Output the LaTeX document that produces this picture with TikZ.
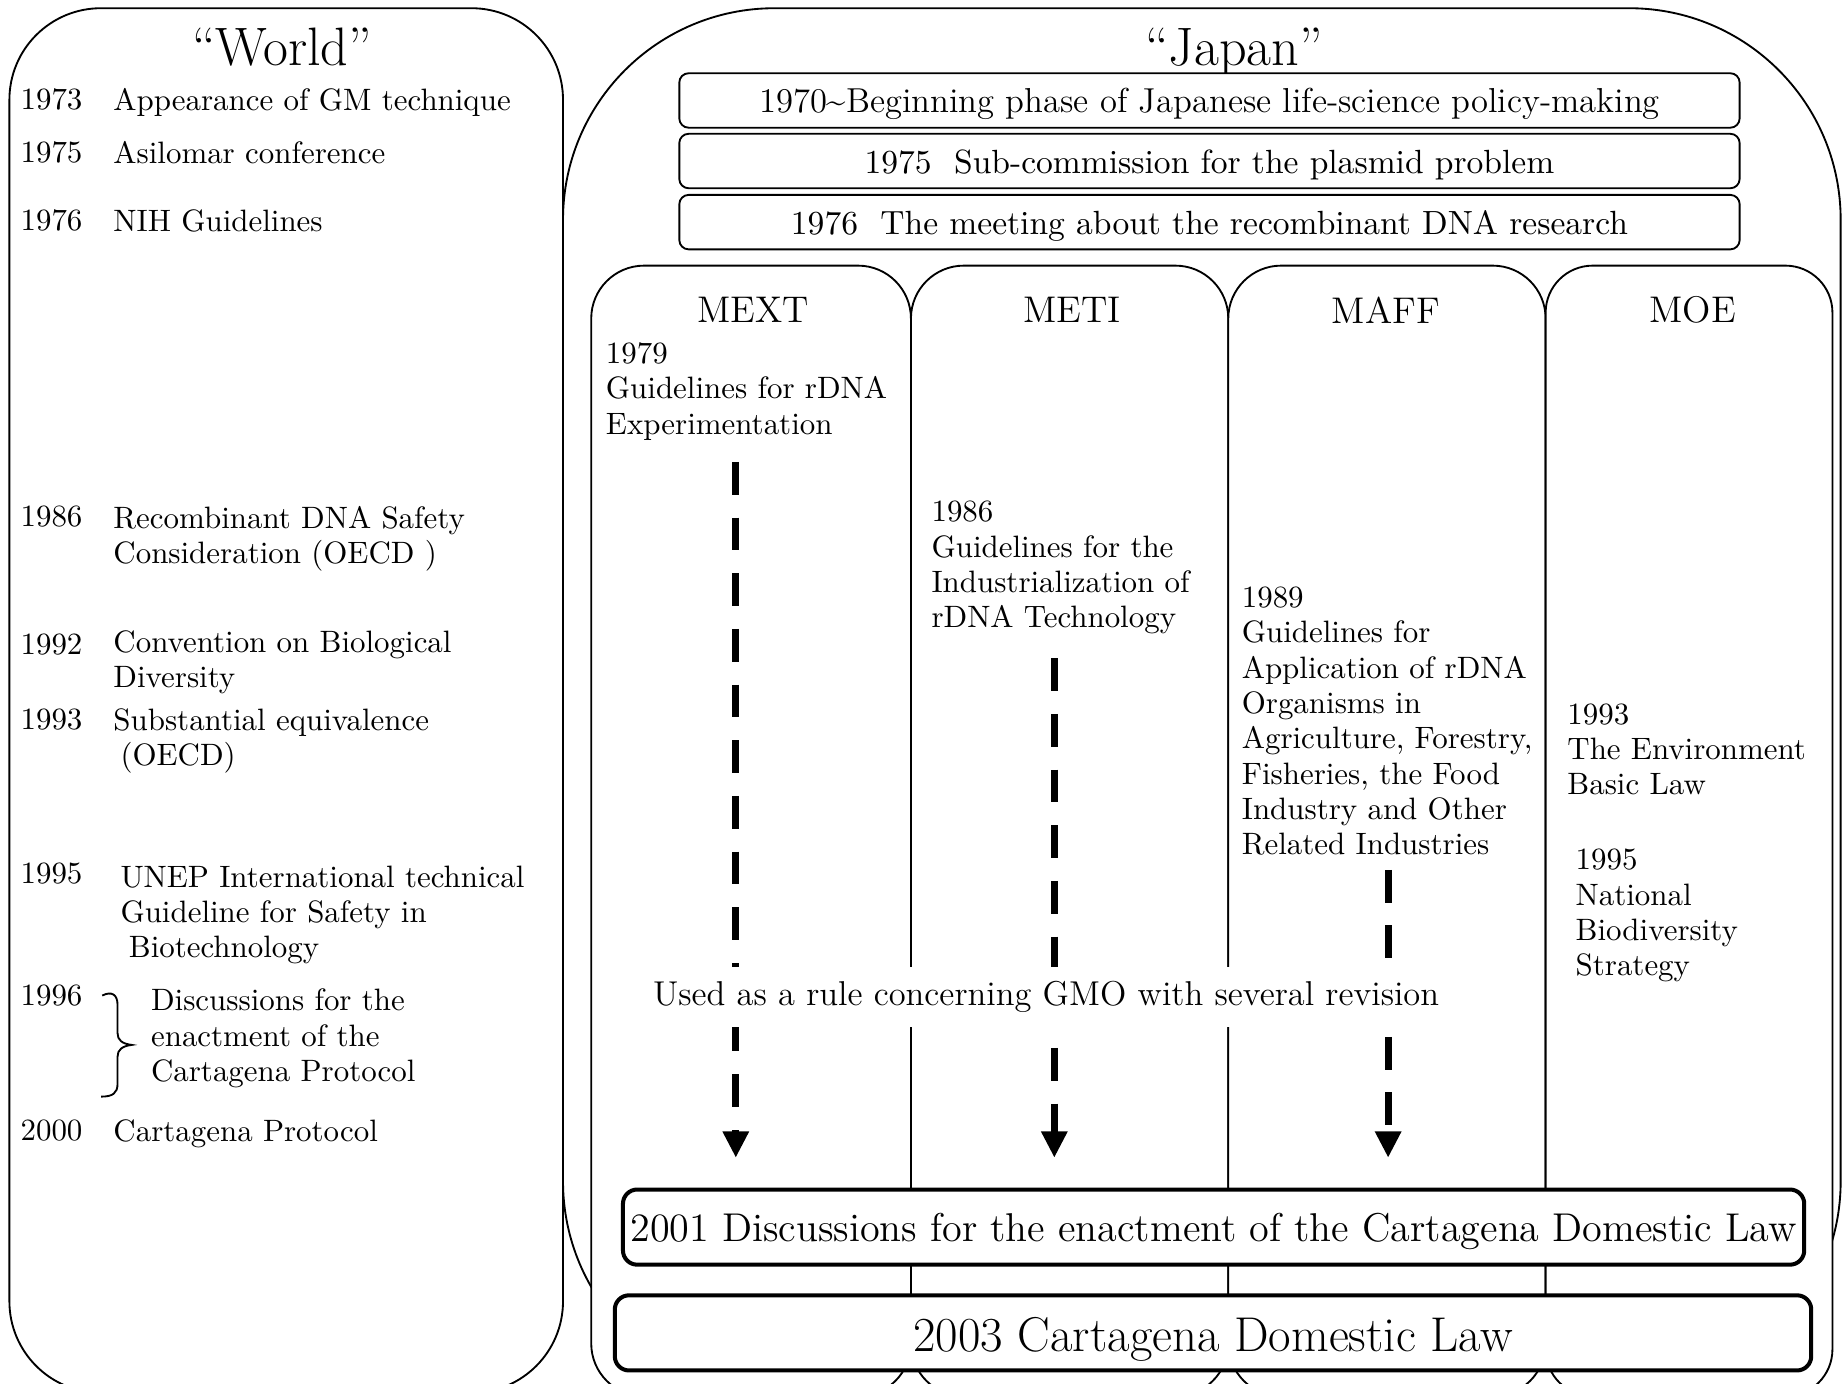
\documentclass[tikz,border=0pt]{standalone}
\usetikzlibrary{arrows.meta}
\begin{document}
\begin{tikzpicture}[x=0.38pt,y={(0pt,-0.38pt)},
  every node/.style={inner sep=0pt, font=\fontsize{10}{11.4}\selectfont},
  frame/.style={draw=black, line width=0.6pt, fill=white},
  item/.style={anchor=north west, align=left},
  titletext/.style={anchor=base, font=\fontsize{17.5}{20}\selectfont},
  ministry/.style={font=\fontsize{12}{14}\selectfont},
  topbox/.style={draw=black, line width=0.6pt, fill=white, rounded corners=3pt,
    minimum width=342.8pt, minimum height=17.6pt, text height=9.9pt, text depth=2.1pt,
    font=\fontsize{10.85}{13}\selectfont},
  lawbox/.style={draw=black, line width=1.3pt, fill=white, rounded corners=4.6pt,
    minimum height=24.3pt},
  arrowline/.style={line width=2.2pt, dash pattern=on 10.6pt off 7.4pt,
    -{Triangle[width=8pt,length=8.5pt]}}
]
\useasboundingbox (0,0) rectangle (1568,1177);

% ---------- containers ----------
\draw[frame, rounded corners=29.6pt] (8,7) rectangle (479,1185);
\draw[frame, rounded corners=68.4pt] (479,7) rectangle (1566,1185);
\draw[frame, rounded corners=17.1pt] (503,226) rectangle (775,1188);
\draw[frame, rounded corners=17.1pt] (775,226) rectangle (1045,1188);
\draw[frame, rounded corners=17.1pt] (1045,226) rectangle (1315,1188);
\draw[frame, rounded corners=15.2pt] (1315,226) rectangle (1559,1188);

% ---------- titles ----------
\node[titletext] (worldT) at (240,56) {“World”};
\node[titletext] (japanT) at (1050,56) {“Japan”};

% ---------- World column ----------
\node[item] (y1973) at (17,75) {1973};
\node[item] (t1973) at (96,75) {Appearance of GM technique};
\node[item] (y1975) at (17,120) {1975};
\node[item] (t1975) at (96,120) {Asilomar conference};
\node[item] (y1976) at (17,178) {1976};
\node[item] (t1976) at (96,178) {NIH Guidelines};
\node[item] (y1986) at (17,430) {1986};
\node[item] (t1986) at (96,430) {Recombinant DNA Safety\\Consideration (OECD )};
\node[item] (y1992) at (17,539) {1992};
\node[item] (t1992) at (96,536) {Convention on Biological\\Diversity};
\node[item] (y1993) at (17,603) {1993};
\node[item] (t1993) at (96,602) {Substantial equivalence\\\hspace*{2.3pt}(OECD)};
\node[item] (y1995) at (17,734) {1995};
\node[item] (t1995) at (102,736) {UNEP International technical\\Guideline for Safety in\\\hspace*{2.7pt}Biotechnology};
\node[item] (y1996) at (17,837) {1996};
\node[item] (t1996) at (128,841) {Discussions for the\\enactment of the\\Cartagena Protocol};
\node[item] (y2000) at (17,952) {2000};
\node[item] (t2000) at (96,952) {Cartagena Protocol};
\draw[line width=0.6pt] (87,847) .. controls (95,843) and (100,846) .. (100,855)
  -- (100,879) .. controls (100,885) and (104,888) .. (112,889)
  .. controls (104,890) and (100,893) .. (100,899)
  -- (100,922) .. controls (100,930) and (96,933) .. (86,933);

% ---------- Japan top boxes ----------
\node[topbox, font=\fontsize{11.2}{13}\selectfont] (p1970) at (1029,85.5) {1970\textasciitilde Beginning phase of Japanese life-science policy-making};
\node[topbox] (p1975) at (1029,137) {1975\ \ Sub-commission for the plasmid problem};
\node[topbox] (p1976) at (1029,189) {1976\ \ The meeting about the recombinant DNA research};

% ---------- ministries ----------
\node[ministry] (mext) at (641,264) {MEXT};
\node[ministry] (meti) at (912,264) {METI};
\node[ministry] (maff) at (1179,264) {MAFF};
\node[ministry] (moe) at (1440,264) {MOE};

\node[item] (mext79) at (515,291) {1979\\Guidelines for rDNA\\Experimentation};
\node[item] (meti86) at (792,426) {1986\\Guidelines for the\\Industrialization of\\rDNA Technology};
\node[item] (maff89) at (1056,499) {1989\\Guidelines for\\Application of rDNA\\Organisms in\\Agriculture, Forestry,\\Fisheries, the Food\\Industry and Other\\Related Industries};
\node[item] (moe93) at (1333,598) {1993\\The Environment\\Basic Law};
\node[item] (moe95) at (1340,722) {1995\\National\\Biodiversity\\Strategy};

% ---------- arrows ----------
\coordinate (mextS) at (626,393);
\coordinate (mextE) at (626,985);
\coordinate (metiS) at (897,560);
\coordinate (metiE) at (897,985);
\coordinate (maffS) at (1181,740);
\coordinate (maffE) at (1181,985);
\draw[arrowline] (mextS) -- (mextE);
\draw[arrowline] (metiS) -- (metiE);
\draw[arrowline] (maffS) -- (maffE);

\node[fill=white, inner xsep=2pt, inner ysep=4.6pt, font=\fontsize{11.15}{13}\selectfont]
  (used) at (890,848) {Used as a rule concerning GMO with several revision};

% ---------- laws ----------
\node[lawbox, minimum width=381.9pt, text height=12pt, text depth=2.5pt,
  font=\fontsize{13}{15}\selectfont]
  (d2001) at (1032.5,1044) {2001 Discussions for the enactment of the Cartagena Domestic Law};
\node[lawbox, minimum width=386.8pt, text height=14.8pt, text depth=3pt,
  font=\fontsize{15.8}{18}\selectfont]
  (l2003) at (1032,1134) {2003 Cartagena Domestic Law};
\end{tikzpicture}
\end{document}
